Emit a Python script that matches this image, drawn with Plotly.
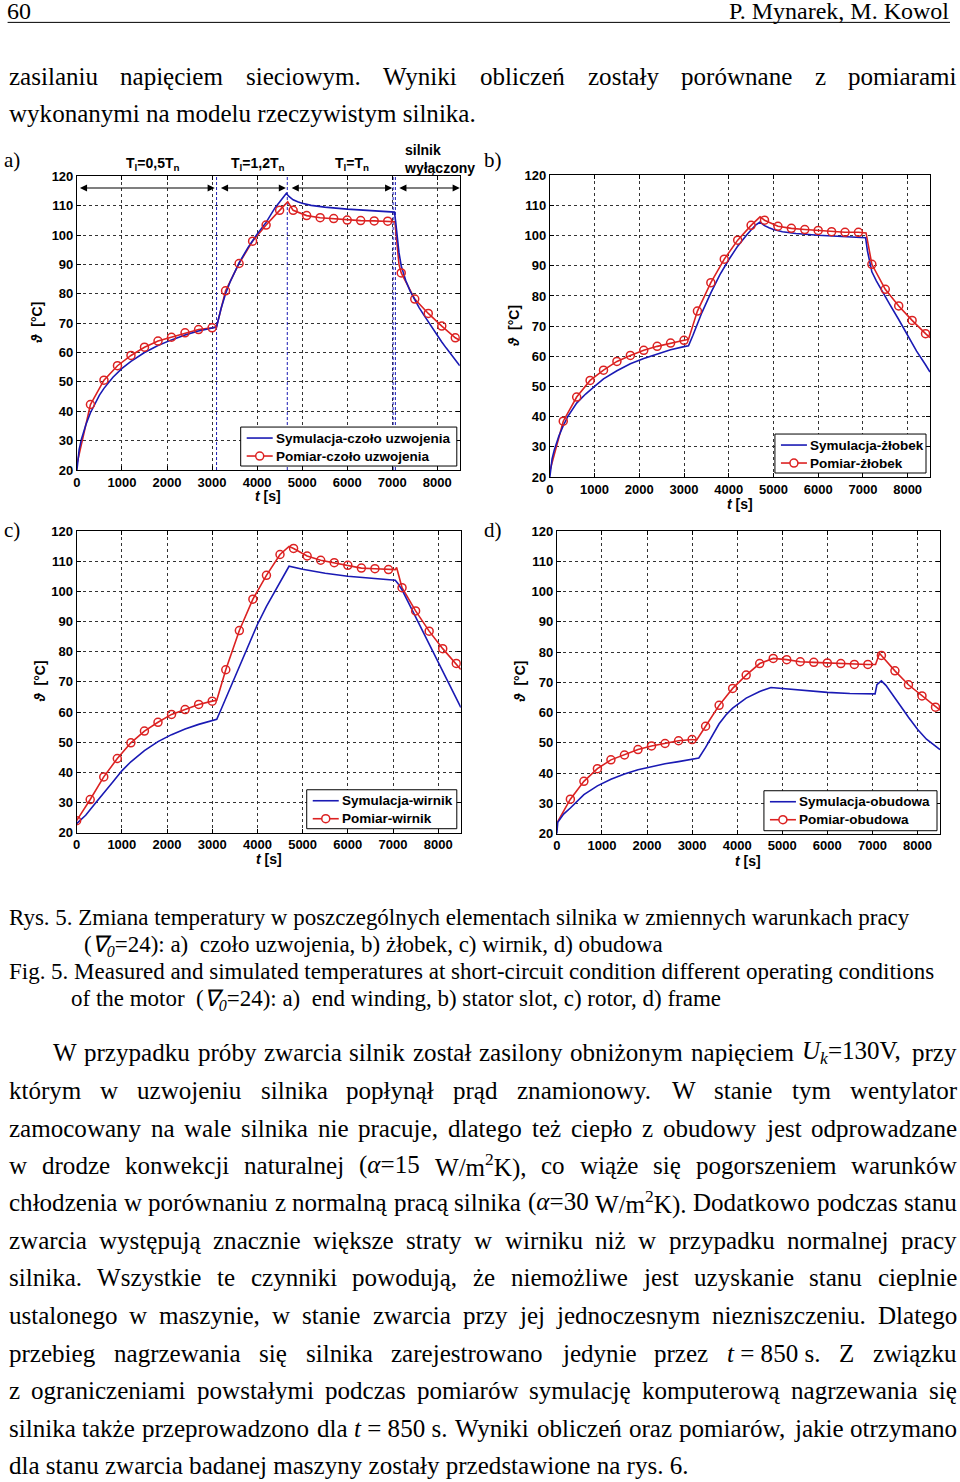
import re
import plotly.graph_objects as go

W, H = 960, 1482

# ---------------------------------------------------------------- data
mark_t = [300, 600, 900, 1200, 1500, 1800, 2100, 2400, 2700, 3000, 3300, 3600, 3900, 4200,
          4500, 4800, 5100, 5400, 5700, 6000, 6300, 6600, 6900, 7200, 7500, 7800, 8100, 8400]
mark_t_c = [0] + mark_t

# a) czoło uzwojenia
sim_t_a = [0, 50, 100, 200, 300, 400, 500, 600, 800, 1000, 1200, 1500, 1800, 2100, 2400, 2700,
           3000, 3100, 3200, 3300, 3400, 3500, 3600, 3800, 4000, 4200, 4400, 4500, 4650, 4700,
           4800, 4900, 5000, 5200, 5500, 6000, 6500, 7000, 7050, 7080, 7100, 7150, 7200, 7300,
           7400, 7500, 7600, 7700, 7800, 7900, 8000, 8100, 8200, 8300, 8400, 8500]
sim_v_a = [20, 27, 30.5, 35.5, 39.5, 42.8, 45.5, 47.8, 51.6, 54.6, 57.0, 60.0, 62.4, 64.3, 66.0, 67.3,
           68.3, 68.7, 75.0, 80.0, 84.0, 87.5, 90.5, 95.8, 100.3, 104.3, 109.3, 111.2, 114.2, 113.2,
           112.0, 111.3, 110.8, 110.1, 109.5, 108.8, 108.3, 107.9, 107.8, 104.0, 100.5, 94.0, 89.5, 84.5,
           80.8, 77.8, 75.2, 72.8, 70.4, 68.0, 65.8, 63.6, 61.5, 59.4, 57.4, 55.5]
mark_v_a = [42.3, 50.6, 55.5, 59.0, 61.8, 63.9, 65.2, 66.7, 67.8, 68.4, 81.0, 90.3, 97.9, 103.4,
            108.4, 108.4, 106.6, 105.9, 105.6, 105.1, 104.9, 104.8, 104.7, 87.1, 78.2, 73.3, 69.0, 65.0]
red_extra_t_a = [0, 3100, 4680, 7060, 7150, 8500]
red_extra_v_a = [22, 68.8, 111.3, 104.5, 90.0, 64.2]
vlines_a = [3100, 4670, 7020, 7070]
arrows_a = [(0, 3060), (3130, 4640), (4700, 7000), (7090, 8500)]
arrow_level_a = 116

# b) żłobek
sim_t_b = [0, 50, 100, 200, 300, 400, 600, 800, 1000, 1200, 1500, 1800, 2100, 2400, 2700, 3000,
           3100, 3200, 3300, 3400, 3600, 3800, 4000, 4200, 4400, 4600, 4700, 4800, 4900, 5000,
           5200, 5500, 6000, 6500, 7000, 7060, 7100, 7150, 7200, 7300, 7400, 7500, 7600, 7800,
           8000, 8200, 8400, 8500]
sim_v_b = [20, 26, 29, 33.5, 37, 40, 44.5, 47.5, 50, 52.5, 55.2, 57.5, 59.3, 60.8, 62.2, 63.2,
           63.5, 67, 71, 74.5, 81, 87, 92, 96.5, 100.2, 103.5, 104.5, 103.3, 102.6, 102.0,
           101.3, 100.7, 100.1, 99.7, 99.4, 99.3, 95.0, 91.0, 88.0, 85.0, 82.3, 79.7, 77.2, 72.2,
           66.9, 61.7, 57.2, 54.8]
mark_v_b = [38.5, 46.5, 52.0, 55.4, 58.3, 60.3, 62.0, 63.3, 64.4, 65.3, 75.0, 84.4, 92.2, 98.5,
            103.4, 105.1, 103.1, 102.4, 102.0, 101.7, 101.3, 101.1, 101.1, 90.5, 82.2, 76.7, 71.9, 67.5]
red_extra_t_b = [0, 3100, 4700, 7070, 8500]
red_extra_v_b = [22, 65.6, 106.2, 100.9, 66.2]

# c) wirnik
sim_t_c = [0, 200, 400, 600, 800, 1000, 1200, 1500, 1800, 2100, 2400, 2700, 3000, 3100, 3200,
           3400, 3600, 3800, 4000, 4200, 4400, 4600, 4700, 5000, 5500, 6000, 6500, 7000, 7050,
           7100, 7200, 7400, 7600, 7800, 8000, 8200, 8400, 8500]
sim_v_c = [23, 25.8, 29.5, 33, 36.8, 40.5, 43.5, 47.2, 50.2, 52.5, 54.4, 55.9, 57.2, 57.6, 61,
           68, 75.5, 82.5, 89, 95, 100.5, 106, 108.3, 107.3, 106, 105, 104.3, 103.8, 103.7,
           102.8, 100.5, 94.5, 88.5, 82.5, 76.2, 70, 64.5, 61.5]
mark_v_c = [24.0, 31.0, 38.5, 44.6, 49.8, 53.7, 56.6, 59.2, 60.8, 62.5, 63.6, 74.0, 87.0, 97.4,
            105.3, 112.2, 114.2, 111.7, 110.3, 109.5, 108.6, 107.7, 107.5, 107.2, 101.2, 93.5, 86.8,
            81.0, 76.1]
red_extra_t_c = [3100, 4700, 7050, 7080, 8500]
red_extra_v_c = [63.9, 114.9, 107.2, 107.9, 74.1]

# d) obudowa
sim_t_d = [0, 20, 150, 300, 600, 900, 1200, 1500, 1800, 2100, 2400, 2700, 3000, 3150, 3300,
           3450, 3600, 3750, 3900, 4200, 4500, 4750, 5000, 5500, 6000, 6500, 7000, 7060, 7100,
           7200, 7300, 7400, 7500, 7600, 7700, 7800, 8000, 8200, 8400, 8500]
sim_v_d = [20, 23.8, 26.5, 28.5, 32.9, 35.8, 38.0, 39.7, 41.1, 42.2, 43.1, 43.8, 44.6, 45.0, 48.5,
           52.5, 56.3, 59.2, 61.5, 64.8, 67.0, 68.3, 68.0, 67.2, 66.7, 66.3, 66.1, 66.2, 69.2,
           70.5, 69.0, 67.0, 65.0, 62.8, 60.6, 58.5, 54.5, 51.2, 48.8, 47.8]
mark_v_d = [31.4, 37.3, 41.5, 44.4, 46.0, 47.8, 49.0, 49.8, 50.7, 51.1, 55.5, 62.4, 68.0, 72.4,
            76.2, 77.9, 77.5, 76.8, 76.6, 76.4, 76.2, 75.9, 75.9, 78.9, 73.8, 69.2, 65.5, 61.8]
red_extra_t_d = [0, 3100, 7070, 7160, 8500]
red_extra_v_d = [23.5, 50.9, 75.9, 79.6, 60.8]

legend_names = {
    'a': ('Symulacja-czoło uzwojenia', 'Pomiar-czoło uzwojenia'),
    'b': ('Symulacja-żłobek', 'Pomiar-żłobek'),
    'c': ('Symulacja-wirnik', 'Pomiar-wirnik'),
    'd': ('Symulacja-obudowa', 'Pomiar-obudowa'),
}
load_labels = ['T<sub>l</sub>=0,5T<sub>n</sub>', 'T<sub>l</sub>=1,2T<sub>n</sub>', 'T<sub>l</sub>=T<sub>n</sub>']
off_label = 'silnik<br>wyłączony'

header_left = '60'
header_right = 'P. Mynarek, M. Kowol'
para1 = ['zasilaniu napięciem sieciowym. Wyniki obliczeń zostały porównane z pomiarami',
         'wykonanymi na modelu rzeczywistym silnika.']
caption = ['Rys. 5. Zmiana temperatury w poszczególnych elementach silnika w zmiennych warunkach pracy',
           '(<i>∇<sub>0</sub></i>=24): a)  czoło uzwojenia, b) żłobek, c) wirnik, d) obudowa',
           'Fig. 5. Measured and simulated temperatures at short-circuit condition different operating conditions',
           'of the motor  (<i>∇<sub>0</sub></i>=24): a)  end winding, b) stator slot, c) rotor, d) frame']
body = ['W przypadku próby zwarcia silnik został zasilony obniżonym napięciem <i>U<sub>k</sub></i>=130V, przy',
        'którym w uzwojeniu silnika popłynął prąd znamionowy. W stanie tym wentylator',
        'zamocowany na wale silnika nie pracuje, dlatego też ciepło z obudowy jest odprowadzane',
        'w drodze konwekcji naturalnej (<i>α</i>=15 W/m<sup>2</sup>K), co wiąże się pogorszeniem warunków',
        'chłodzenia w porównaniu z normalną pracą silnika (<i>α</i>=30 W/m<sup>2</sup>K). Dodatkowo podczas stanu',
        'zwarcia występują znacznie większe straty w wirniku niż w przypadku normalnej pracy',
        'silnika. Wszystkie te czynniki powodują, że niemożliwe jest uzyskanie stanu cieplnie',
        'ustalonego w maszynie, w stanie zwarcia przy jej jednoczesnym niezniszczeniu. Dlatego',
        'przebieg nagrzewania się silnika zarejestrowano jedynie przez <i>t</i>\u00a0=\u00a0850\u00a0s. Z związku',
        'z ograniczeniami powstałymi podczas pomiarów symulację komputerową nagrzewania się',
        'silnika także przeprowadzono dla <i>t</i>\u00a0=\u00a0850\u00a0s. Wyniki obliczeń oraz pomiarów, jakie otrzymano',
        'dla stanu zwarcia badanej maszyny zostały przedstawione na rys. 6.']

# ---------------------------------------------------------------- helpers
BLUE = '#1a1ab4'
RED = '#dc2222'
SANS = 'Liberation Sans'
SERIF = 'Liberation Serif'


def px(x):
    return ((x - 4.4) / 0.9954) / W


def py(y):
    return 1 - ((y - 6.6) / 0.9907) / H


TIMES = {' ': 250, '\u00a0': 250, '(': 333, ')': 333, ',': 250, '-': 333, '.': 250, '/': 278,
         ':': 278, ';': 278, '=': 564, '∇': 722, 'α': 520,
         'A': 722, 'B': 667, 'C': 667, 'D': 722, 'E': 611, 'F': 556, 'G': 722, 'H': 722, 'I': 333,
         'J': 389, 'K': 722, 'L': 611, 'M': 889, 'N': 722, 'O': 722, 'P': 556, 'Q': 722, 'R': 667,
         'S': 556, 'T': 611, 'U': 722, 'V': 722, 'W': 944, 'X': 722, 'Y': 722, 'Z': 611,
         'a': 444, 'b': 500, 'c': 444, 'd': 500, 'e': 444, 'f': 333, 'g': 500, 'h': 500, 'i': 278,
         'j': 278, 'k': 500, 'l': 278, 'm': 778, 'n': 500, 'o': 500, 'p': 500, 'q': 500, 'r': 333,
         's': 389, 't': 278, 'u': 500, 'v': 500, 'w': 722, 'x': 500, 'y': 500, 'z': 444}
ACC = {'ą': 'a', 'ę': 'e', 'ł': 'l', 'ó': 'o', 'ś': 's', 'ż': 'z', 'ź': 'z', 'ć': 'c', 'ń': 'n'}


def em_width(s):
    tot, scale = 0.0, 1.0
    for part in re.split(r'(<[^>]+>)', s):
        if part.startswith('<'):
            if part in ('<sub>', '<sup>'):
                scale = 0.7
            elif part in ('</sub>', '</sup>'):
                scale = 1.0
            continue
        for ch in part:
            tot += TIMES.get(ACC.get(ch, ch), 500) * scale
    return tot / 1000.0


annotations = []
shapes = []


def text_ann(text, x, y, size, xanchor='left', font=SERIF, weight='normal', yanchor='middle', **kw):
    d = dict(text=text, x=px(x), y=py(y), xref='paper', yref='paper', xanchor=xanchor,
             yanchor=yanchor, showarrow=False, borderpad=0,
             font=dict(family=font, size=size, color='black', weight=weight))
    d.update(kw)
    annotations.append(d)


def justified(line, y, x0, x1, size):
    words = line.split(' ')
    widths = [em_width(w) * size for w in words]
    gap = (x1 - x0 - sum(widths)) / (len(words) - 1)
    x = x0
    for w, wd in zip(words, widths):
        text_ann(w, x, y, size)
        x += wd + gap


def pline(x0, y0, x1, y1, color, width=1, dash='solid'):
    shapes.append(dict(type='line', xref='paper', yref='paper', x0=px(x0), x1=px(x1), y0=py(y0),
                       y1=py(y1), line=dict(color=color, width=width, dash=dash)))


# ---------------------------------------------------------------- page text
BODY = 680 / em_width(body[-1])
text_ann(header_left, 6, 11, 24)
text_ann(header_right, 950, 11, 24, xanchor='right')
pline(8, 22, 950, 22, 'black')
justified(para1[0], 76, 8, 956, BODY)
text_ann(para1[1], 8, 113, BODY)

CAP = (910 - 8) / em_width(caption[0])
for line, (x, y) in zip(caption, [(8, 918), (83, 946), (8, 972), (70, 1000)]):
    text_ann(line, x, y, CAP)

body_y = [1053, 1091, 1129, 1166, 1203, 1241, 1278, 1316, 1354, 1391, 1429, 1466]
for i, (line, y) in enumerate(zip(body, body_y)):
    x0 = 52 if i == 0 else 8
    if i < len(body) - 1:
        justified(line, y, x0, 956, BODY)
    else:
        text_ann(line, x0, y, BODY)

for lab, (x, y) in zip(['a)', 'b)', 'c)', 'd)'], [(3, 160), (483, 160), (3, 530), (483, 530)]):
    text_ann(lab, x, y, 21)

# ---------------------------------------------------------------- charts
fig = go.Figure()

panels = {
    'a': dict(ax='', box=(77.3, 460, 176, 470), sim=(sim_t_a, sim_v_a), mark=(mark_t, mark_v_a),
              extra=(red_extra_t_a, red_extra_v_a), leg=(241, 457, 427, 466), xl=(268, 495), yl=(38, 323)),
    'b': dict(ax='2', box=(550, 930, 175, 477), sim=(sim_t_b, sim_v_b), mark=(mark_t, mark_v_b),
              extra=(red_extra_t_b, red_extra_v_b), leg=(775, 926, 434, 473), xl=(740, 503), yl=(514, 326)),
    'c': dict(ax='3', box=(77, 461, 531, 833), sim=(sim_t_c, sim_v_c), mark=(mark_t_c, mark_v_c),
              extra=(red_extra_t_c, red_extra_v_c), leg=(307, 457, 790, 829), xl=(269, 858), yl=(40, 682)),
    'd': dict(ax='4', box=(557, 940, 531, 834), sim=(sim_t_d, sim_v_d), mark=(mark_t, mark_v_d),
              extra=(red_extra_t_d, red_extra_v_d), leg=(764, 937, 791, 831), xl=(748, 860), yl=(520, 682)),
}

tickfont = dict(family=SANS, size=13, color='black', weight='bold')
axis_common = dict(showline=True, linecolor='black', linewidth=1, mirror='ticks', ticks='inside',
                   ticklen=4, tickcolor='black', showgrid=True, gridcolor='#333333', griddash='dot',
                   gridwidth=1, zeroline=False, tickfont=tickfont, fixedrange=True)

for i, (key, p) in enumerate(panels.items()):
    ax = p['ax']
    xa, ya = 'x' + ax, 'y' + ax
    x0, x1, y0, y1 = p['box']
    fig.update_layout(**{
        'xaxis' + ax: dict(domain=[px(x0), px(x1)], anchor=ya, range=[0, 8500], tick0=0, dtick=1000,
                           **axis_common),
        'yaxis' + ax: dict(domain=[py(y1), py(y0)], anchor=xa, range=[20, 120], tick0=20, dtick=10,
                           **axis_common),
    })
    if key == 'a':
        for v in vlines_a:
            fig.add_trace(go.Scatter(x=[v, v], y=[20, 120], mode='lines', xaxis=xa, yaxis=ya,
                                     line=dict(color=BLUE, width=1, dash='3px,2px'), showlegend=False,
                                     hoverinfo='skip'))
    st, sv = p['sim']
    mt, mv = p['mark']
    et, ev = p['extra']
    red = sorted(zip(list(mt) + list(et), list(mv) + list(ev)))
    fig.add_trace(go.Scatter(x=[r[0] for r in red], y=[r[1] for r in red], mode='lines', xaxis=xa,
                             yaxis=ya, line=dict(color=RED, width=1.6), showlegend=False))
    fig.add_trace(go.Scatter(x=st, y=sv, mode='lines', xaxis=xa, yaxis=ya, name=legend_names[key][0],
                             line=dict(color=BLUE, width=1.6), showlegend=False))
    fig.add_trace(go.Scatter(x=mt, y=mv, mode='markers', xaxis=xa, yaxis=ya, name=legend_names[key][1],
                             showlegend=False,
                             marker=dict(symbol='circle-open', size=8, color=RED,
                                         line=dict(width=1.5, color=RED))))

    # legend box (MATLAB style)
    lx0, lx1, ly0, ly1 = p['leg']
    shapes.append(dict(type='rect', xref='paper', yref='paper', x0=px(lx0), x1=px(lx1), y0=py(ly1),
                       y1=py(ly0), fillcolor='white', line=dict(color='black', width=1)))
    r1 = ly0 + 11
    r2 = ly0 + 29
    pline(lx0 + 6, r1, lx0 + 32, r1, BLUE, 1.6)
    pline(lx0 + 6, r2, lx0 + 32, r2, RED, 1.6)
    cx = lx0 + 19
    shapes.append(dict(type='circle', xref='paper', yref='paper', x0=px(cx - 4), x1=px(cx + 4),
                       y0=py(r2 + 4), y1=py(r2 - 4), fillcolor='white', line=dict(color=RED, width=1.5)))
    text_ann(legend_names[key][0], lx0 + 34, r1, 13.5, font=SANS, weight='bold')
    text_ann(legend_names[key][1], lx0 + 34, r2, 13.5, font=SANS, weight='bold')

    text_ann('<i>t</i> [s]', p['xl'][0], p['xl'][1] + 1, 14, xanchor='center', font=SANS, weight='bold')
    text_ann('<i>ϑ</i>  [°C]', p['yl'][0], p['yl'][1], 14, xanchor='center', font=SANS, weight='bold',
             textangle=-90)

# arrows and load-state labels in panel a
for s, e in arrows_a:
    annotations.append(dict(x=e, y=arrow_level_a, ax=s, ay=arrow_level_a, xref='x', yref='y',
                            axref='x', ayref='y', text=' ', showarrow=True, arrowhead=2,
                            startarrowhead=2, arrowside='end+start', arrowsize=1.3, arrowwidth=1.1,
                            arrowcolor='black', font=dict(size=10)))
for lab, xc in zip(load_labels, [1681, 4014, 6102]):
    annotations.append(dict(text=lab, x=xc, y=py(164), xref='x', yref='paper', xanchor='center',
                            yanchor='middle', showarrow=False,
                            font=dict(family=SANS, size=14, color='black', weight='bold')))
annotations.append(dict(text=off_label, x=7210, y=py(159), xref='x', yref='paper', xanchor='left',
                        yanchor='middle', align='left', showarrow=False,
                        font=dict(family=SANS, size=14, color='black', weight='bold')))

fig.update_layout(width=W, height=H, autosize=False, margin=dict(l=0, r=0, t=0, b=0),
                  paper_bgcolor='white', plot_bgcolor='white', annotations=annotations,
                  shapes=shapes, showlegend=False)

fig.write_html('out.html', config={'displayModeBar': False},
               post_script="document.body.style.margin='0';document.body.style.overflow='hidden';"
                           "document.documentElement.style.overflow='hidden';")
